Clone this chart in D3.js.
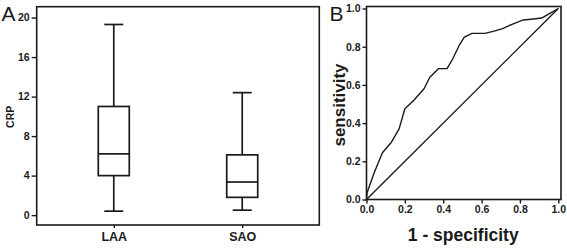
<!DOCTYPE html>
<html>
<head>
<meta charset="utf-8">
<script src="https://cdn.jsdelivr.net/npm/d3@7"></script>
<style>
  body { margin: 0; background: #fff; }
  svg { display: block; font-family: "Liberation Sans", Arial, sans-serif; }
  .tick text { font-family: "Liberation Sans", Arial, sans-serif; font-weight: bold; fill: #1a1a1a; }
  .tick line { stroke: #1a1a1a; stroke-width: 1.4; }
</style>
</head>
<body>
<div id="chart"></div>
<script>
// Panel A: CRP box plots (summary stats)
var groups = ["LAA", "SAO"];
var whiskerLow = [0.4, 0.5];
var q1 = [4.0, 1.8];
var median = [6.2, 3.35];
var q3 = [11.0, 6.1];
var whiskerHigh = [19.3, 12.4];
var crpTicks = [0, 4, 8, 12, 16, 20];

// Panel B: ROC curve
var fpr = [0, 0.003, 0.04, 0.083, 0.13, 0.17, 0.2, 0.247, 0.3, 0.33, 0.375, 0.42, 0.45, 0.485, 0.51, 0.55, 0.617, 0.66, 0.71, 0.765, 0.817, 0.87, 0.913, 0.956, 1];
var tpr = [0, 0.035, 0.14, 0.245, 0.30, 0.37, 0.475, 0.52, 0.58, 0.64, 0.685, 0.685, 0.737, 0.81, 0.85, 0.87, 0.87, 0.88, 0.895, 0.92, 0.94, 0.945, 0.95, 0.975, 1];
var rocTicks = [0, 0.2, 0.4, 0.6, 0.8, 1.0];

var W = 567, H = 249, ink = "#1a1a1a";

var svg = d3.select("#chart").append("svg")
    .attr("width", W)
    .attr("height", H);

// ---------- panel A ----------
var a = {left: 36.7, top: 6.7, right: 319.3, bottom: 225};

var xA = d3.scalePoint()
    .domain(groups)
    .range([a.left, a.right])
    .padding(0.6);
var yA = d3.scaleLinear()
    .domain([-1.0, 21.1])
    .range([a.bottom, a.top]);

var gA = svg.append("g");

gA.append("g")
    .attr("transform", "translate(" + a.left + ",0)")
    .style("font-size", "10.5px")
    .call(d3.axisLeft(yA).tickValues(crpTicks).tickSize(5).tickPadding(2))
    .call(function(g) { g.select(".domain").remove(); });

gA.append("g")
    .attr("transform", "translate(0," + a.bottom + ")")
    .style("font-size", "12.5px")
    .call(d3.axisBottom(xA).tickSize(3).tickPadding(4))
    .call(function(g) { g.select(".domain").remove(); });

gA.append("rect")
    .attr("x", a.left).attr("y", a.top)
    .attr("width", a.right - a.left).attr("height", a.bottom - a.top)
    .attr("fill", "none").attr("stroke", ink).attr("stroke-width", 1.6);

var boxW = 31, capW = 19;
var boxes = gA.selectAll("g.box")
    .data(groups)
  .enter().append("g")
    .attr("class", "box")
    .attr("stroke", ink)
    .attr("stroke-width", 1.7)
    .attr("fill", "none");

boxes.append("line") // whisker
    .attr("x1", function(d) { return xA(d); })
    .attr("x2", function(d) { return xA(d); })
    .attr("y1", function(d, i) { return yA(whiskerLow[i]); })
    .attr("y2", function(d, i) { return yA(whiskerHigh[i]); });
boxes.append("rect")
    .attr("x", function(d) { return xA(d) - boxW / 2; })
    .attr("width", boxW)
    .attr("y", function(d, i) { return yA(q3[i]); })
    .attr("height", function(d, i) { return yA(q1[i]) - yA(q3[i]); })
    .attr("fill", "#fff");
boxes.append("line") // median
    .attr("x1", function(d) { return xA(d) - boxW / 2; })
    .attr("x2", function(d) { return xA(d) + boxW / 2; })
    .attr("y1", function(d, i) { return yA(median[i]); })
    .attr("y2", function(d, i) { return yA(median[i]); });
[whiskerLow, whiskerHigh].forEach(function(arr) {
  boxes.append("line")
      .attr("x1", function(d) { return xA(d) - capW / 2; })
      .attr("x2", function(d) { return xA(d) + capW / 2; })
      .attr("y1", function(d, i) { return yA(arr[i]); })
      .attr("y2", function(d, i) { return yA(arr[i]); });
});

gA.append("text")
    .attr("transform", "translate(14," + ((a.top + a.bottom) / 2 + 1) + ") rotate(-90)")
    .attr("text-anchor", "middle")
    .style("font-size", "10.5px")
    .style("font-weight", "bold")
    .attr("fill", ink)
    .text("CRP");

gA.append("text")
    .attr("x", 1.5).attr("y", 20.5)
    .style("font-size", "21px")
    .attr("fill", ink)
    .text("A");

// ---------- panel B ----------
var b = {left: 366.5, top: 6.5, right: 561, bottom: 199.5};

var xB = d3.scaleLinear()
    .domain([0, 1.014])
    .range([b.left, b.right]);
var yB = d3.scaleLinear()
    .domain([0, 1.0105])
    .range([b.bottom, b.top]);

var gB = svg.append("g");

gB.append("g")
    .attr("transform", "translate(" + b.left + ",0)")
    .style("font-size", "10.5px")
    .call(d3.axisLeft(yB).tickValues(rocTicks).tickFormat(d3.format(".1f")).tickSize(4).tickPadding(2))
    .call(function(g) { g.select(".domain").remove(); });

gB.append("g")
    .attr("transform", "translate(0," + b.bottom + ")")
    .style("font-size", "10.5px")
    .call(d3.axisBottom(xB).tickValues(rocTicks).tickFormat(d3.format(".1f")).tickSize(4).tickPadding(2))
    .call(function(g) { g.select(".domain").remove(); });

gB.append("rect")
    .attr("x", b.left).attr("y", b.top)
    .attr("width", b.right - b.left).attr("height", b.bottom - b.top)
    .attr("fill", "none").attr("stroke", ink).attr("stroke-width", 1.6);

gB.append("line")
    .attr("x1", xB(0)).attr("y1", yB(0))
    .attr("x2", xB(1)).attr("y2", yB(1))
    .attr("stroke", ink).attr("stroke-width", 1.4);

var roc = fpr.map(function(f, i) { return [f, tpr[i]]; });
gB.append("path")
    .datum(roc)
    .attr("fill", "none")
    .attr("stroke", ink)
    .attr("stroke-width", 1.4)
    .attr("stroke-linejoin", "round")
    .attr("d", d3.line()
      .x(function(d) { return xB(d[0]); })
      .y(function(d) { return yB(d[1]); }));

gB.append("text")
    .attr("x", (b.left + b.right) / 2 - 0.5).attr("y", 240.5)
    .attr("text-anchor", "middle")
    .style("font-size", "17.5px")
    .style("font-weight", "bold")
    .attr("fill", ink)
    .text("1 - specificity");

gB.append("text")
    .attr("transform", "translate(345,105) rotate(-90)")
    .attr("text-anchor", "middle")
    .style("font-size", "17px")
    .style("font-weight", "bold")
    .attr("fill", ink)
    .text("sensitivity");

gB.append("text")
    .attr("x", 329.5).attr("y", 20.5)
    .style("font-size", "21px")
    .attr("fill", ink)
    .text("B");
</script>
</body>
</html>
